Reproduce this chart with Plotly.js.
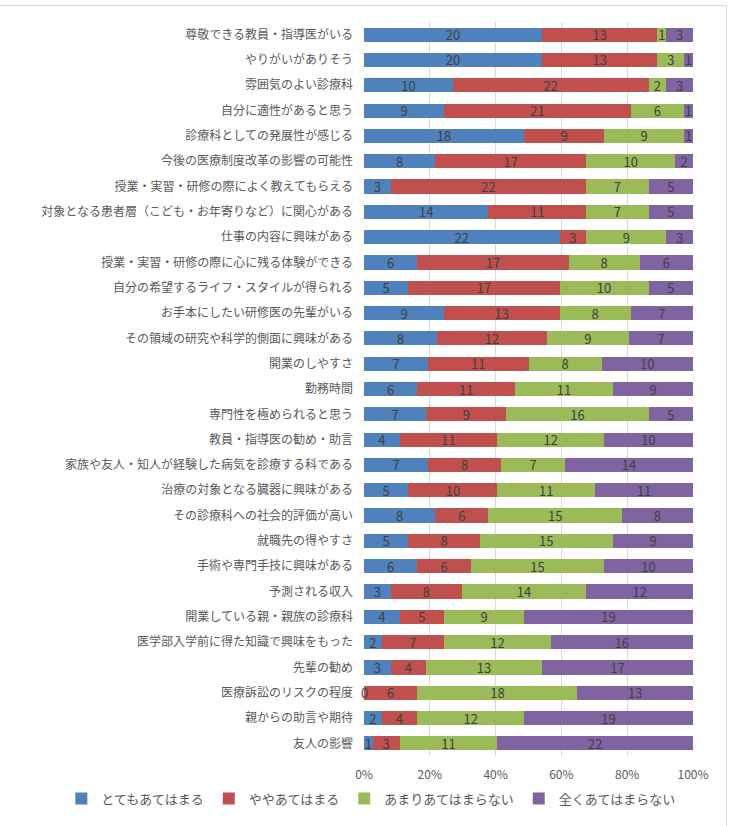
<!DOCTYPE html>
<html>
<head>
<meta charset="utf-8">
<script src="https://cdn.plot.ly/plotly-3.0.1.min.js"></script>
<style>
  html, body { margin: 0; padding: 0; background: #fff; }
  #frame { position: absolute; left: -2px; top: 5px; width: 728px; height: 830px;
           border-top: 1px solid #d9d9d9; border-right: 1px solid #d9d9d9; }
  #chart { position: absolute; left: 0; top: 0; width: 735px; height: 826px; }
</style>
</head>
<body>
<div id="frame"></div>
<div id="chart"></div>
<script>
// Reasons for choosing a specialty (number of respondents per answer)
const categories = [
  "尊敬できる教員・指導医がいる",
  "やりがいがありそう",
  "雰囲気のよい診療科",
  "自分に適性があると思う",
  "診療科としての発展性が感じる",
  "今後の医療制度改革の影響の可能性",
  "授業・実習・研修の際によく教えてもらえる",
  "対象となる患者層（こども・お年寄りなど）に関心がある",
  "仕事の内容に興味がある",
  "授業・実習・研修の際に心に残る体験ができる",
  "自分の希望するライフ・スタイルが得られる",
  "お手本にしたい研修医の先輩がいる",
  "その領域の研究や科学的側面に興味がある",
  "開業のしやすさ",
  "勤務時間",
  "専門性を極められると思う",
  "教員・指導医の勧め・助言",
  "家族や友人・知人が経験した病気を診療する科である",
  "治療の対象となる臓器に興味がある",
  "その診療科への社会的評価が高い",
  "就職先の得やすさ",
  "手術や専門手技に興味がある",
  "予測される収入",
  "開業している親・親族の診療科",
  "医学部入学前に得た知識で興味をもった",
  "先輩の勧め",
  "医療訴訟のリスクの程度",
  "親からの助言や期待",
  "友人の影響"
];

const seriesNames = ["とてもあてはまる", "ややあてはまる", "あまりあてはまらない", "全くあてはまらない"];

const veryTrue = [20,20,10,9,18,8,3,14,22,6,5,9,8,7,6,7,4,7,5,8,5,6,3,4,2,3,0,2,1];
const somewhatTrue = [13,13,22,21,9,17,22,11,3,17,17,13,12,11,11,9,11,8,10,6,8,6,8,5,7,4,6,4,3];
const notReally = [1,3,2,6,9,10,7,7,9,8,10,8,9,8,11,16,12,7,11,15,15,15,14,9,12,13,18,12,11];
const notAtAll = [3,1,3,1,1,2,5,5,3,6,5,7,7,10,9,5,10,14,11,8,9,10,12,19,16,17,13,19,22];

const tickVals = [0, 20, 40, 60, 80, 100];
const tickText = ["0%", "20%", "40%", "60%", "80%", "100%"];

const colors = ["#4F81BD", "#C0504D", "#9BBB59", "#8064A2"];
const allSeries = [veryTrue, somewhatTrue, notReally, notAtAll];

const FONT = "Noto Sans CJK JP, Noto Sans, sans-serif";

const traces = allSeries.map((vals, i) => ({
  type: "bar",
  orientation: "h",
  name: seriesNames[i],
  y: categories,
  x: vals,
  text: vals.map(String),
  textposition: "inside",
  insidetextanchor: "middle",
  textangle: 0,
  constraintext: "none",
  textfont: { family: FONT, size: 13, color: "#404040" },
  marker: { color: colors[i] },
  hoverinfo: "name+x"
}));

// Zero-count labels sit at the start of the (empty) segment
const annotations = [];
categories.forEach((cat, r) => {
  let cum = 0;
  const total = allSeries.reduce((s, arr) => s + arr[r], 0);
  allSeries.forEach((arr) => {
    if (arr[r] === 0) {
      annotations.push({
        x: cum / total * 100, y: cat, xref: "x", yref: "y",
        text: "0", showarrow: false, xanchor: "center",
        font: { family: FONT, size: 13, color: "#404040" }
      });
    }
    cum += arr[r];
  });
});

const layout = {
  width: 735,
  height: 826,
  paper_bgcolor: "rgba(0,0,0,0)",
  plot_bgcolor: "rgba(0,0,0,0)",
  barmode: "stack",
  barnorm: "percent",
  bargap: 0.44,
  margin: { l: 364, r: 42, t: 22, b: 68, pad: 0 },
  font: { family: FONT, size: 12, color: "#595959" },
  uniformtext: { mode: "show", minsize: 13 },
  xaxis: {
    range: [0, 100],
    tickvals: tickVals,
    ticktext: tickText,
    showgrid: true,
    gridcolor: "#d9d9d9",
    gridwidth: 1,
    zeroline: false,
    showline: false,
    ticks: "",
    ticklen: 0,
    ticklabelstandoff: 10,
    tickfont: { family: FONT, size: 12, color: "#595959" },
    fixedrange: true
  },
  yaxis: {
    autorange: "reversed",
    showgrid: false,
    zeroline: false,
    showline: false,
    ticks: "",
    ticklen: 0,
    ticklabelstandoff: 10,
    tickfont: { family: FONT, size: 12, color: "#595959" },
    fixedrange: true
  },
  legend: {
    orientation: "h",
    xref: "paper",
    yref: "paper",
    x: -0.92,
    xanchor: "left",
    y: -0.058,
    yanchor: "middle",
    font: { family: FONT, size: 13, color: "#595959" },
    itemwidth: 30,
    traceorder: "normal"
  },
  annotations: annotations,
  showlegend: true
};

Plotly.newPlot("chart", traces, layout, { displayModeBar: false, staticPlot: true });
</script>
</body>
</html>
